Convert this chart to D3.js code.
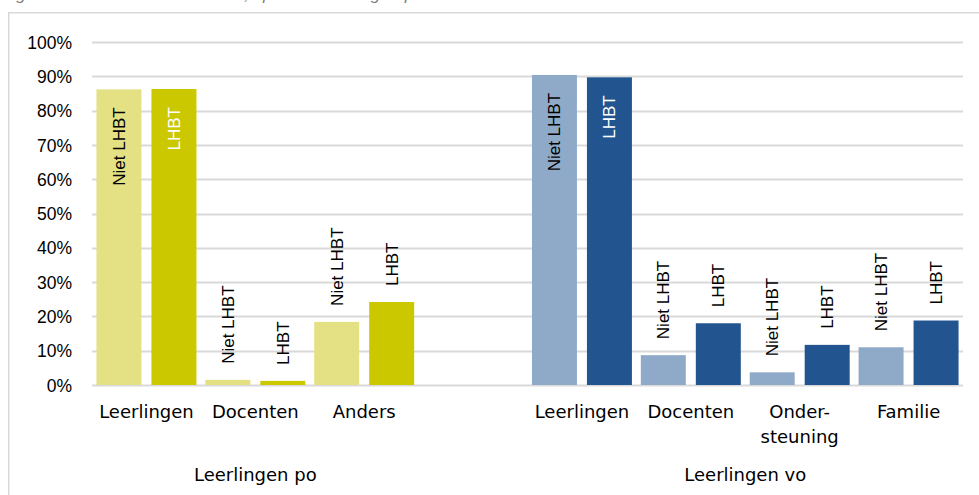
<!DOCTYPE html>
<html>
<head>
<meta charset="utf-8">
<script src="https://cdn.jsdelivr.net/npm/d3@7"></script>
<style>
  html, body { margin: 0; padding: 0; background: #ffffff; }
  svg { display: block; }
</style>
</head>
<body>
<div id="chart"></div>
<script>
// ---- data ----
const titleText = "Figuur 3.5 Aan wie het verteld is, apart voor elke groep";
const groupLabels = ["Leerlingen po", "Leerlingen vo"];
const seriesNames = ["Niet LHBT", "LHBT"];
const categoriesPo = ["Leerlingen", "Docenten", "Anders"];
const categoriesVo = ["Leerlingen", "Docenten", "Onder-|steuning", "Familie"];
const poNietLhbt = [0.862, 0.015, 0.184];
const poLhbt = [0.863, 0.012, 0.242];
const voNietLhbt = [0.904, 0.087, 0.037, 0.110];
const voLhbt = [0.897, 0.180, 0.117, 0.188];
const yTicks = [0, 0.1, 0.2, 0.3, 0.4, 0.5, 0.6, 0.7, 0.8, 0.9, 1.0];

const colors = {
  po: { "Niet LHBT": "#e4e184", "LHBT": "#ccc800" },
  vo: { "Niet LHBT": "#8faac8", "LHBT": "#22558f" }
};
const labelColors = { "Niet LHBT": "#000000", "LHBT": "#ffffff" };

// ---- build slots ----
const slots = [];
categoriesPo.forEach((c, i) => slots.push({ key: "po" + i, label: c, group: "po",
  values: { "Niet LHBT": poNietLhbt[i], "LHBT": poLhbt[i] } }));
slots.push({ key: "gap", label: "", group: null, values: null });
categoriesVo.forEach((c, i) => slots.push({ key: "vo" + i, label: c, group: "vo",
  values: { "Niet LHBT": voNietLhbt[i], "LHBT": voLhbt[i] } }));

const W = 979, H = 495;
const svg = d3.select("#chart").append("svg").attr("width", W).attr("height", H)
  .style("background", "#fff");

// title (cut off at top)
svg.append("text").attr("x", 2).attr("y", -0.5)
  .attr("font-family", "Liberation Sans, Arial, sans-serif")
  .attr("font-style", "italic").attr("font-size", 17).attr("fill", "#7f7f7f")
  .text(titleText);

// frame
svg.append("path").attr("d", `M8.75,${H} L8.75,12.75 L${W},12.75`)
  .attr("fill", "none").attr("stroke", "#d9d9d9").attr("stroke-width", 1.5);

const x = d3.scaleBand().domain(slots.map(d => d.key)).range([92, 963]).paddingInner(0).paddingOuter(0);
const xs = d3.scaleBand().domain(seriesNames).range([0, x.bandwidth()]).paddingInner(0.182).paddingOuter(0.081);
const y = d3.scaleLinear().domain([0, 1]).range([385, 42]);

// gridlines
const yAxis = d3.axisLeft(y).tickValues(yTicks).tickFormat(d3.format(".0%")).tickSize(0).tickPadding(20);
const gAxis = svg.append("g").attr("transform", "translate(92,0)").call(yAxis);
gAxis.select(".domain").remove();
gAxis.selectAll("text").attr("font-family", "Liberation Sans, Arial, sans-serif")
  .attr("font-size", 17.5).attr("fill", "#000").attr("dy", "0.35em");

svg.append("g").selectAll("line").data(yTicks).join("line")
  .attr("x1", 92).attr("x2", 963)
  .attr("y1", d => Math.round(y(d)) + 0.5).attr("y2", d => Math.round(y(d)) + 0.5)
  .attr("stroke", "#d9d9d9").attr("stroke-width", 2);

// bars
const barData = [];
slots.forEach(s => {
  if (!s.values) return;
  seriesNames.forEach(n => barData.push({ slot: s, series: n, value: s.values[n] }));
});

svg.append("g").selectAll("rect").data(barData).join("rect")
  .attr("x", d => x(d.slot.key) + xs(d.series))
  .attr("width", xs.bandwidth())
  .attr("y", d => y(d.value))
  .attr("height", d => y(0) - y(d.value))
  .attr("fill", d => colors[d.slot.group][d.series]);

// rotated labels
svg.append("g").selectAll("text").data(barData).join("text")
  .attr("transform", d => {
    const cx = x(d.slot.key) + xs(d.series) + xs.bandwidth() / 2;
    const inside = d.value > 0.5;
    const yy = inside ? y(d.value) + 18 : y(d.value) - 16;
    return `translate(${cx},${yy}) rotate(-90)`;
  })
  .attr("text-anchor", d => d.value > 0.5 ? "end" : "start")
  .attr("dy", "0.35em")
  .attr("font-family", "Liberation Sans, Arial, sans-serif")
  .attr("font-size", 17)
  .attr("fill", d => d.value > 0.5 ? labelColors[d.series] : "#000")
  .text(d => d.series);

// category labels
const catFont = "DejaVu Sans, sans-serif";
const catG = svg.append("g");
slots.forEach(s => {
  if (!s.label) return;
  const lines = s.label.split("|");
  const t = catG.append("text").attr("x", x(s.key) + x.bandwidth() / 2).attr("y", 418)
    .attr("text-anchor", "middle").attr("font-family", catFont).attr("font-size", 18)
    .attr("fill", "#000");
  lines.forEach((l, i) => t.append("tspan").attr("x", x(s.key) + x.bandwidth() / 2)
    .attr("dy", i === 0 ? 0 : 25).text(l));
});

// group labels
const groupKeys = [slots.filter(s => s.group === "po").map(s => s.key), slots.filter(s => s.group === "vo").map(s => s.key)];
svg.append("g").selectAll("text").data(groupLabels).join("text")
  .attr("x", (d, i) => {
    const k = groupKeys[i];
    return (x(k[0]) + x(k[k.length - 1]) + x.bandwidth()) / 2;
  })
  .attr("y", 481)
  .attr("text-anchor", "middle").attr("font-family", catFont).attr("font-size", 18)
  .attr("fill", "#000")
  .text(d => d);
</script>
</body>
</html>
